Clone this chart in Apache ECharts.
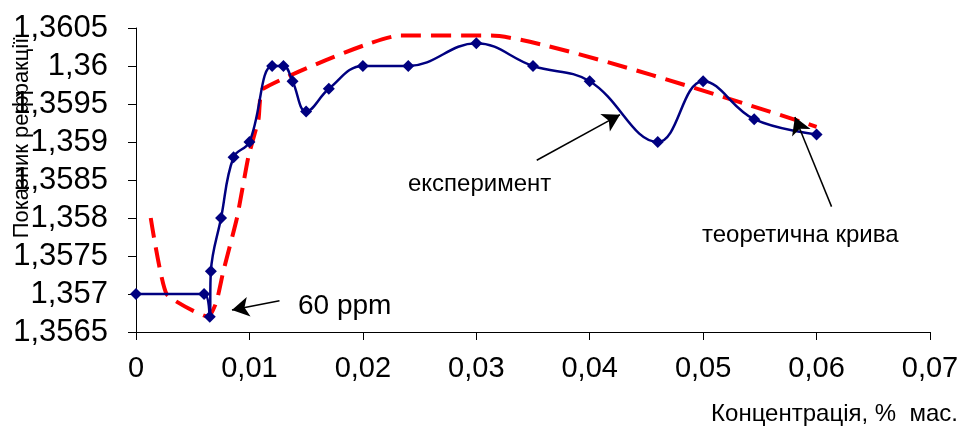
<!DOCTYPE html>
<html>
<head>
<meta charset="utf-8">
<script src="https://cdn.jsdelivr.net/npm/echarts@6/dist/echarts.min.js"></script>
<style>html,body{margin:0;padding:0;background:#fff}#c{width:964px;height:430px}</style>
</head>
<body>
<div id="c"></div>
<script>
// Experimental curve
var expX = [0, 0.006, 0.0065, 0.0066, 0.0075, 0.0086, 0.0100, 0.0120, 0.0130, 0.0138, 0.0150, 0.0170, 0.0200, 0.0240, 0.0300, 0.0350, 0.0400, 0.0460, 0.0500, 0.0545, 0.0600];
var expY = [1.357, 1.357, 1.3567, 1.3573, 1.358, 1.3588, 1.359, 1.36, 1.36, 1.3598, 1.3594, 1.3597, 1.36, 1.36, 1.3603, 1.36, 1.3598, 1.359, 1.3598, 1.3593, 1.3591];
// Theoretical curve
var thX = [0.0013, 0.0027, 0.0064, 0.0071, 0.0077, 0.0089, 0.0099, 0.0108, 0.0112, 0.0233, 0.0313, 0.0600];
var thY = [1.358, 1.357, 1.3567, 1.3569, 1.3573, 1.358, 1.3588, 1.3593, 1.3597, 1.3604, 1.3604, 1.3592];
// Axis settings
var xMin = 0, xMax = 0.07, xStep = 0.01;
var yMin = 1.3565, yMax = 1.3605, yStep = 0.0005;
// Annotations (arrow start -> tip, in data units)
var arrowFrom = [[0.01265, 1.35691], [0.03533, 1.35876], [0.06132, 1.35815]];
var arrowTo   = [[0.00846, 1.35679], [0.04267, 1.35936], [0.05809, 1.35933]];
var labelTexts = ['60 ppm', 'експеримент', 'теоретична крива'];
var xTitle = 'Концентрація, %  мас.';
var yTitle = 'Показник рефракції';

function fmt(v, d) {
  var s = v.toFixed(d).replace(/0+$/, '').replace(/\.$/, '');
  return s.replace('.', ',');
}
function zip(a, b) { return a.map(function (v, i) { return [v, b[i]]; }); }

var FONT = 'Liberation Sans, Arial, sans-serif';
var chart = echarts.init(document.getElementById('c'));
var arrowData = arrowFrom.map(function (f, i) {
  return [{ coord: f, symbol: 'none' }, { coord: arrowTo[i], symbol: 'arrow' }];
});

chart.setOption({
  backgroundColor: '#fff',
  animation: false,
  grid: { left: 136, right: 34, top: 28, bottom: 98 },
  xAxis: {
    type: 'value', min: xMin, max: xMax, interval: xStep,
    axisLine: { lineStyle: { color: '#000', width: 1 } },
    axisTick: { show: true, length: 8, lineStyle: { color: '#000' } },
    splitLine: { show: false },
    axisLabel: { color: '#000', fontSize: 29, fontFamily: FONT, margin: 22,
      formatter: function (v) { return fmt(v, 2); } }
  },
  yAxis: {
    type: 'value', min: yMin, max: yMax, interval: yStep,
    axisLine: { show: true, lineStyle: { color: '#000', width: 1 } },
    axisTick: { show: true, length: 8, lineStyle: { color: '#000' } },
    splitLine: { show: false },
    axisLabel: { color: '#000', fontSize: 31, fontFamily: FONT, margin: 28,
      formatter: function (v) { return fmt(v, 4); } }
  },
  series: [
    {
      name: 'theory', type: 'line', data: zip(thX, thY), smooth: 0.15,
      symbol: 'none',
      lineStyle: { color: '#ff0000', width: 4, type: [20, 10] },
      z: 2
    },
    {
      name: 'experiment', type: 'line', data: zip(expX, expY), smooth: 0.4,
      symbol: 'diamond', symbolSize: 12,
      itemStyle: { color: '#000080' },
      lineStyle: { color: '#000080', width: 2.5 },
      z: 3,
      markLine: {
        silent: true, symbolSize: [15, 17], animation: false,
        label: { show: false },
        lineStyle: { color: '#000', width: 1.5, type: 'solid' },
        data: arrowData
      }
    }
  ],
  graphic: [
    { type: 'text', left: 298, top: 292, style: { text: labelTexts[0], fontSize: 28, fontFamily: FONT, fill: '#000' } },
    { type: 'text', left: 408, top: 172, style: { text: labelTexts[1], fontSize: 24, fontFamily: FONT, fill: '#000' } },
    { type: 'text', left: 702, top: 223, style: { text: labelTexts[2], fontSize: 24, fontFamily: FONT, fill: '#000' } },
    { type: 'text', right: 6, top: 402, style: { text: xTitle, fontSize: 24, fontFamily: FONT, fill: '#000' } },
    { type: 'text', x: 22, y: 138, rotation: Math.PI / 2,
      style: { text: yTitle, fontSize: 22, fontFamily: FONT, fill: '#000', align: 'center', verticalAlign: 'middle' } }
  ]
});
</script>
</body>
</html>
